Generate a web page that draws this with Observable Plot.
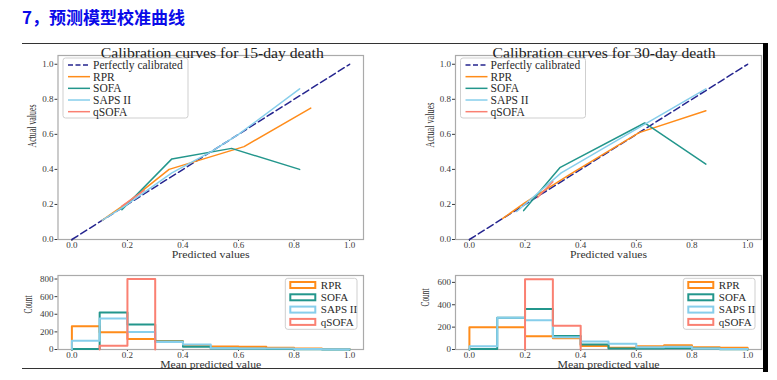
<!DOCTYPE html>
<html><head><meta charset="utf-8">
<script src="https://cdn.jsdelivr.net/npm/d3@7"></script>
<script src="https://cdn.jsdelivr.net/npm/@observablehq/plot@0.6"></script>
<style>
body{margin:0;background:#fff;}
#page{position:relative;width:777px;height:380px;overflow:hidden;background:#fff;}
#head{position:absolute;left:22px;top:5px;font-family:"Noto Sans CJK SC";font-weight:bold;font-size:17px;color:#0a0ae8;line-height:24px;white-space:nowrap;}
.rule{position:absolute;background:#333;}
</style></head><body>
<div id="page">
  <div id="head">7，预测模型校准曲线</div>
</div>
<script>
// ---------- data ----------
const seriesNames = ["RPR", "SOFA", "SAPS II", "qSOFA"];
const seriesColors = ["#ff8c1a", "#23968c", "#87ceeb", "#fa8072"];
const perfectLabel = "Perfectly calibrated";
const perfectColor = "#25258f";
const perfectX = [0, 1];
const perfectY = [0, 1];
const calTicks = [0, 0.2, 0.4, 0.6, 0.8, 1.0];
const binEdges = [0, 0.1, 0.2, 0.3, 0.4, 0.5, 0.6, 0.7, 0.8, 0.9, 1.0];
const histTicks15 = [0, 200, 400, 600, 800];
const histTicks30 = [0, 200, 400, 600];
const title15 = "Calibration curves for 15-day death";
const title30 = "Calibration curves for 30-day death";
const xLabelCal = "Predicted values";
const yLabelCal = "Actual values";
const xLabelHist = "Mean predicted value";
const yLabelHist = "Count";

// 15-day calibration curves
const rpr15X  = [0.11, 0.20, 0.35, 0.62, 0.86];
const rpr15Y  = [0.11, 0.21, 0.40, 0.53, 0.75];
const sofa15X = [0.18, 0.36, 0.575, 0.82];
const sofa15Y = [0.17, 0.46, 0.52, 0.40];
const saps15X = [0.11, 0.19, 0.36, 0.50, 0.60, 0.82];
const saps15Y = [0.11, 0.19, 0.38, 0.50, 0.60, 0.86];
const qsofa15X = [0.18, 0.26];
const qsofa15Y = [0.19, 0.28];

// 30-day calibration curves
const rpr30X  = [0.12, 0.20, 0.36, 0.61, 0.85];
const rpr30Y  = [0.12, 0.21, 0.37, 0.61, 0.735];
const sofa30X = [0.195, 0.325, 0.63, 0.85];
const sofa30Y = [0.165, 0.41, 0.665, 0.43];
const saps30X = [0.17, 0.33, 0.60, 0.85];
const saps30Y = [0.16, 0.38, 0.63, 0.86];
const qsofa30X = [0.245, 0.30];
const qsofa30Y = [0.24, 0.33];

// histogram counts per bin (0.1 wide bins)
const rprHist15   = [264, 195, 119, 95, 40, 35, 32, 20, 10, 5];
const sofaHist15  = [5, 421, 283, 90, 30, 10, 8, 5, 3, 1];
const sapsHist15  = [99, 352, 199, 85, 57, 15, 12, 10, 5, 2];
const qsofaHist15 = [0, 42, 800, 0, 0, 0, 0, 0, 0, 0];

const rprHist30   = [198, 198, 118, 100, 32, 15, 30, 38, 20, 15];
const sofaHist30  = [5, 283, 361, 120, 45, 10, 10, 12, 8, 3];
const sapsHist30  = [30, 283, 262, 110, 72, 51, 20, 25, 10, 5];
const qsofaHist30 = [0, 0, 628, 212, 0, 0, 0, 0, 0, 0];

// ---------- helpers ----------
const page = document.getElementById("page");
const fontFam = '"Liberation Serif", "Times New Roman", serif';

function pts(xs, ys, name) { return xs.map((x, i) => ({x, y: ys[i], name})); }

function stepPts(counts, name) {
  let a = counts.findIndex(c => c > 0);
  let b = counts.length - 1 - [...counts].reverse().findIndex(c => c > 0);
  const out = [{x: binEdges[a], y: 0, name}];
  for (let i = a; i <= b; i++) {
    out.push({x: binEdges[i], y: counts[i], name});
    out.push({x: binEdges[i + 1], y: counts[i], name});
  }
  out.push({x: binEdges[b + 1], y: 0, name});
  return out;
}

function squeeze(svg, str, len) {
  d3.select(svg).selectAll("text").filter(function() { return this.textContent === str; })
    .attr("textLength", len).attr("lengthAdjust", "spacingAndGlyphs");
}

function place(svg, left, top) {
  svg.style.position = "absolute";
  svg.style.left = left + "px";
  svg.style.top = top + "px";
  page.appendChild(svg);
}

function calLegend(svg, fx, fy) {
  const g = d3.select(svg).append("g").attr("font-family", fontFam).attr("text-anchor", "start");
  g.append("rect").attr("x", fx + 5.5).attr("y", fy + 3).attr("width", 125).attr("height", 60)
    .attr("rx", 2.5).attr("fill", "white").attr("fill-opacity", 0.85).attr("stroke", "#cfcfcf");
  const entries = [{label: perfectLabel, color: perfectColor, dash: "5,2.5"}]
    .concat(seriesNames.map((n, i) => ({label: n, color: seriesColors[i]})));
  entries.forEach((e, i) => {
    const yy = fy + 10 + i * 11.67;
    g.append("line").attr("x1", fx + 10.5).attr("x2", fx + 32.5).attr("y1", yy).attr("y2", yy)
      .attr("stroke", e.color).attr("stroke-width", 1.5).attr("stroke-dasharray", e.dash || null);
    g.append("text").attr("x", fx + 35.5).attr("y", yy).attr("dy", "0.35em")
      .attr("text-anchor", "start").attr("font-size", 11.5).attr("fill", "#2a2a2a").text(e.label);
  });
}

function histLegend(svg, fxRight, fy) {
  const g = d3.select(svg).append("g").attr("font-family", fontFam).attr("text-anchor", "start");
  const bx = fxRight - 6 - 71.7;
  g.append("rect").attr("x", bx).attr("y", fy + 3.3).attr("width", 71.7).attr("height", 51)
    .attr("rx", 2.5).attr("fill", "white").attr("fill-opacity", 0.85).attr("stroke", "#cfcfcf");
  seriesNames.forEach((n, i) => {
    const yy = fy + 10 + i * 12.3;
    g.append("rect").attr("x", bx + 5).attr("y", yy - 3).attr("width", 25).attr("height", 6)
      .attr("fill", "white").attr("stroke", seriesColors[i]).attr("stroke-width", 2);
    g.append("text").attr("x", bx + 35.5).attr("y", yy).attr("dy", "0.35em")
      .attr("text-anchor", "start").attr("font-size", 11).attr("fill", "#2a2a2a").text(n);
  });
}

const styleBase = {fontFamily: fontFam, fontSize: "9px", color: "#3a3a3a", background: "none", overflow: "visible"};

function calPlot(title, curves, dxTitle) {
  const marks = [
    Plot.frame({stroke: "#aaaaaa", strokeWidth: 1.2}),
    Plot.line(pts(perfectX, perfectY, perfectLabel), {x: "x", y: "y", stroke: perfectColor, strokeWidth: 1.5, strokeDasharray: "7,3.5"})
  ];
  curves.forEach((c, i) => {
    marks.push(Plot.line(c, {x: "x", y: "y", stroke: seriesColors[i], strokeWidth: 1.5}));
  });
  marks.push(Plot.text([title], {frameAnchor: "top", dy: -7, dx: dxTitle, text: d => d, fontSize: 14, fill: "#222"}));
  marks.push(Plot.text([xLabelCal], {frameAnchor: "bottom", dy: 18.5, text: d => d, fontSize: 11, fill: "#333"}));
  marks.push(Plot.text([yLabelCal], {frameAnchor: "left", dx: -25.5, rotate: -90, text: d => d, fontSize: 12, fill: "#333"}));
  return marks;
}

function histMarks(series, yLabelDy) {
  const marks = [Plot.frame({stroke: "#aaaaaa", strokeWidth: 1.2})];
  series.forEach((s, i) => {
    marks.push(Plot.line(s, {x: "x", y: "y", stroke: seriesColors[i], strokeWidth: 2}));
  });
  marks.push(Plot.text([xLabelHist], {frameAnchor: "bottom", dy: 18.5, text: d => d, fontSize: 11, fill: "#333"}));
  marks.push(Plot.text([yLabelHist], {frameAnchor: "left", dx: -30, dy: yLabelDy, rotate: -90, text: d => d, fontSize: 12, fill: "#333"}));
  return marks;
}

const xCal = {domain: [-0.05, 1.05], ticks: calTicks, tickFormat: d3.format(".1f"), tickSize: 2, tickPadding: 0, label: null};
const yCal = {domain: [0, 1.05], ticks: calTicks, tickFormat: d3.format(".1f"), tickSize: 3, tickPadding: 1.5, label: null};

// ---------- top-left ----------
const tl = Plot.plot({
  width: 385, height: 222, marginLeft: 57.5, marginRight: 22, marginTop: 15, marginBottom: 23,
  style: styleBase, x: xCal, y: yCal,
  marks: calPlot(title15, [pts(rpr15X, rpr15Y), pts(sofa15X, sofa15Y), pts(saps15X, saps15Y), pts(qsofa15X, qsofa15Y)], 1.5)
});
calLegend(tl, 57.5, 15);
squeeze(tl, title15, 223); squeeze(tl, xLabelCal, 78); squeeze(tl, yLabelCal, 43);
place(tl, 0, 40);

// ---------- top-right ----------
const tr = Plot.plot({
  width: 368, height: 222, marginLeft: 60, marginRight: 2, marginTop: 15, marginBottom: 23,
  style: styleBase, x: xCal, y: yCal,
  marks: calPlot(title30, [pts(rpr30X, rpr30Y), pts(sofa30X, sofa30Y), pts(saps30X, saps30Y), pts(qsofa30X, qsofa30Y)], -4.5)
});
calLegend(tr, 60, 15);
squeeze(tr, title30, 223); squeeze(tr, xLabelCal, 77); squeeze(tr, yLabelCal, 45);
place(tr, 395, 40);

// ---------- bottom-left ----------
const bl = Plot.plot({
  width: 385, height: 118, marginLeft: 57.5, marginRight: 22, marginTop: 13, marginBottom: 31,
  style: styleBase,
  x: {domain: [-0.05, 1.05], ticks: calTicks, tickFormat: d3.format(".1f"), tickSize: 2, tickPadding: 0, label: null},
  y: {domain: [0, 840], ticks: histTicks15, tickSize: 3, tickPadding: 1.5, label: null},
  marks: histMarks([stepPts(rprHist15), stepPts(sofaHist15), stepPts(sapsHist15), stepPts(qsofaHist15)], 1)
});
histLegend(bl, 363, 13);
squeeze(bl, xLabelHist, 101); squeeze(bl, yLabelHist, 18);
place(bl, 0, 262);

// ---------- bottom-right ----------
const br = Plot.plot({
  width: 368, height: 118, marginLeft: 60, marginRight: 2, marginTop: 13, marginBottom: 31,
  style: styleBase,
  x: {domain: [-0.05, 1.05], ticks: calTicks, tickFormat: d3.format(".1f"), tickSize: 2, tickPadding: 0, label: null},
  y: {domain: [0, 661.5], ticks: histTicks30, tickSize: 3, tickPadding: 1.5, label: null},
  marks: histMarks([stepPts(rprHist30), stepPts(sofaHist30), stepPts(sapsHist30), stepPts(qsofaHist30)], -6)
});
histLegend(br, 366, 13);
squeeze(br, xLabelHist, 102); squeeze(br, yLabelHist, 18);
place(br, 395, 262);

// ---------- page rules ----------
function rule(l, t, w, h, c) {
  const d = document.createElement("div");
  d.className = "rule";
  Object.assign(d.style, {left: l + "px", top: t + "px", width: w + "px", height: h + "px", background: c});
  page.appendChild(d);
}
rule(22, 42.5, 741, 1.2, "#333");
rule(22, 367.8, 741, 1.4, "#333");
rule(763, 43, 4.5, 329, "#000");
</script>
</body></html>
